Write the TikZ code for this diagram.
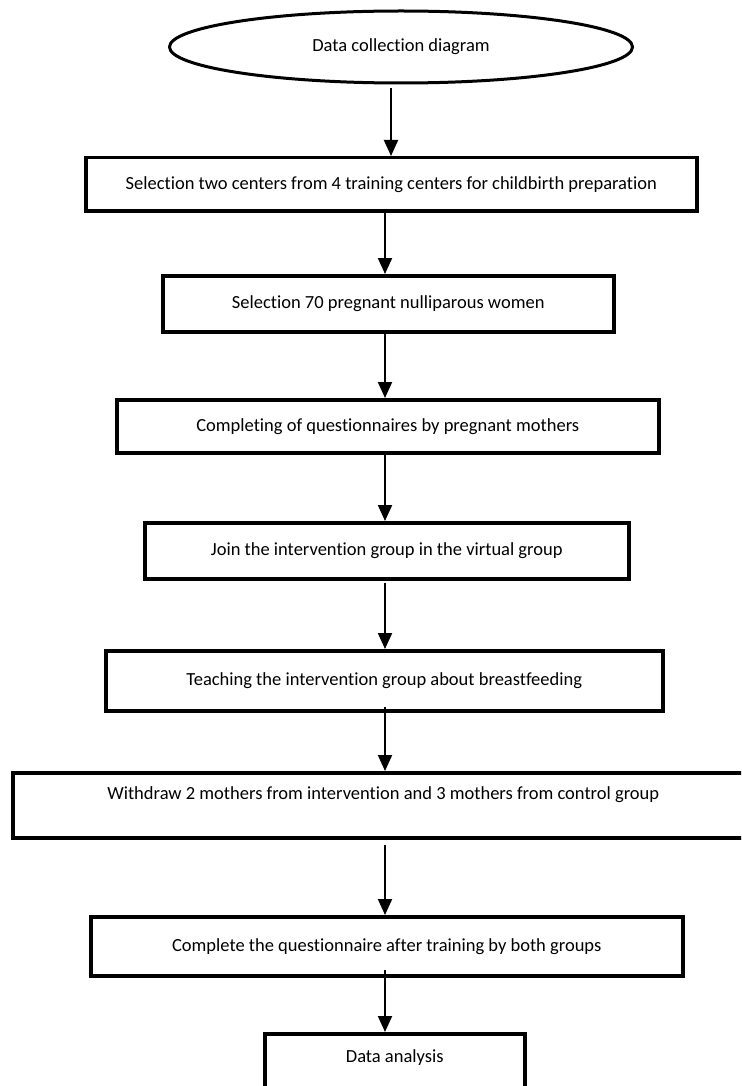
\documentclass[tikz,border=0pt]{standalone}
\usepackage{fontspec}
\setmainfont{Carlito}[Ligatures=NoCommon]
\usetikzlibrary{shapes.geometric,arrows.meta}
\begin{document}
\begin{tikzpicture}[x=1pt,y=-1pt,
  every node/.style={font=\fontsize{18.5}{22}\selectfont},
  stepbox/.style={draw, line width=3.5pt, anchor=north west, inner sep=0pt, align=center},
  oval/.style={draw, ellipse, line width=3pt, inner sep=0pt, minimum width=463pt, minimum height=72pt},
  arr/.style={line width=2pt, -{Triangle[length=16pt,width=14pt]}}
]
\useasboundingbox (0,0) rectangle (741,1086);
\fill[white] (0,0) rectangle (741,1086);
\clip (0,0) rectangle (741,1086);

\node[oval] (ell) at (401,47) {Data collection diagram};

\node[stepbox, minimum width=611pt, minimum height=53pt] (b1) at (84,156)
  {Selection two centers from 4 training centers for childbirth preparation};
\node[stepbox, minimum width=451pt, minimum height=56pt] (b2) at (161,274)
  {Selection 70 pregnant nulliparous women};
\node[stepbox, minimum width=542pt, minimum height=53pt] (b3) at (115,398)
  {Completing of questionnaires by pregnant mothers};
\node[stepbox, minimum width=484pt, minimum height=56pt] (b4) at (143,521)
  {Join the intervention group in the virtual group};
\node[stepbox, minimum width=557pt, minimum height=60pt] (b5) at (104,649)
  {Teaching the intervention group about breastfeeding};
\node[stepbox, minimum width=741pt, minimum height=65pt] (b6) at (11,771)
  {Withdraw 2 mothers from intervention and 3 mothers from control group\\[-5pt] \strut};
\node[stepbox, minimum width=592pt, minimum height=59pt] (b7) at (89,915)
  {Complete the questionnaire after training by both groups};
\node[stepbox, minimum width=260pt, minimum height=65pt] (b8) at (263,1032)
  {Data analysis\\[-9pt] \strut};

\coordinate (ax1) at (391,0);
\coordinate (ax) at (385,0);

\draw[arr, shorten <=4pt] (ell.south -| ax1) -- (b1.north -| ax1);
\draw[arr] (b1.south -| ax) -- (b2.north -| ax);
\draw[arr] (b2.south -| ax) -- (b3.north -| ax);
\draw[arr] (b3.south -| ax) -- (b4.north -| ax);
\draw[arr, shorten <=2pt] (b4.south -| ax) -- (b5.north -| ax);
\draw[arr, shorten <=-6pt] (b5.south -| ax) -- (b6.north -| ax);
\draw[arr, shorten <=5pt] (b6.south -| ax) -- (b7.north -| ax);
\draw[arr, shorten <=-8pt] (b7.south -| ax) -- (b8.north -| ax);
\end{tikzpicture}
\end{document}
